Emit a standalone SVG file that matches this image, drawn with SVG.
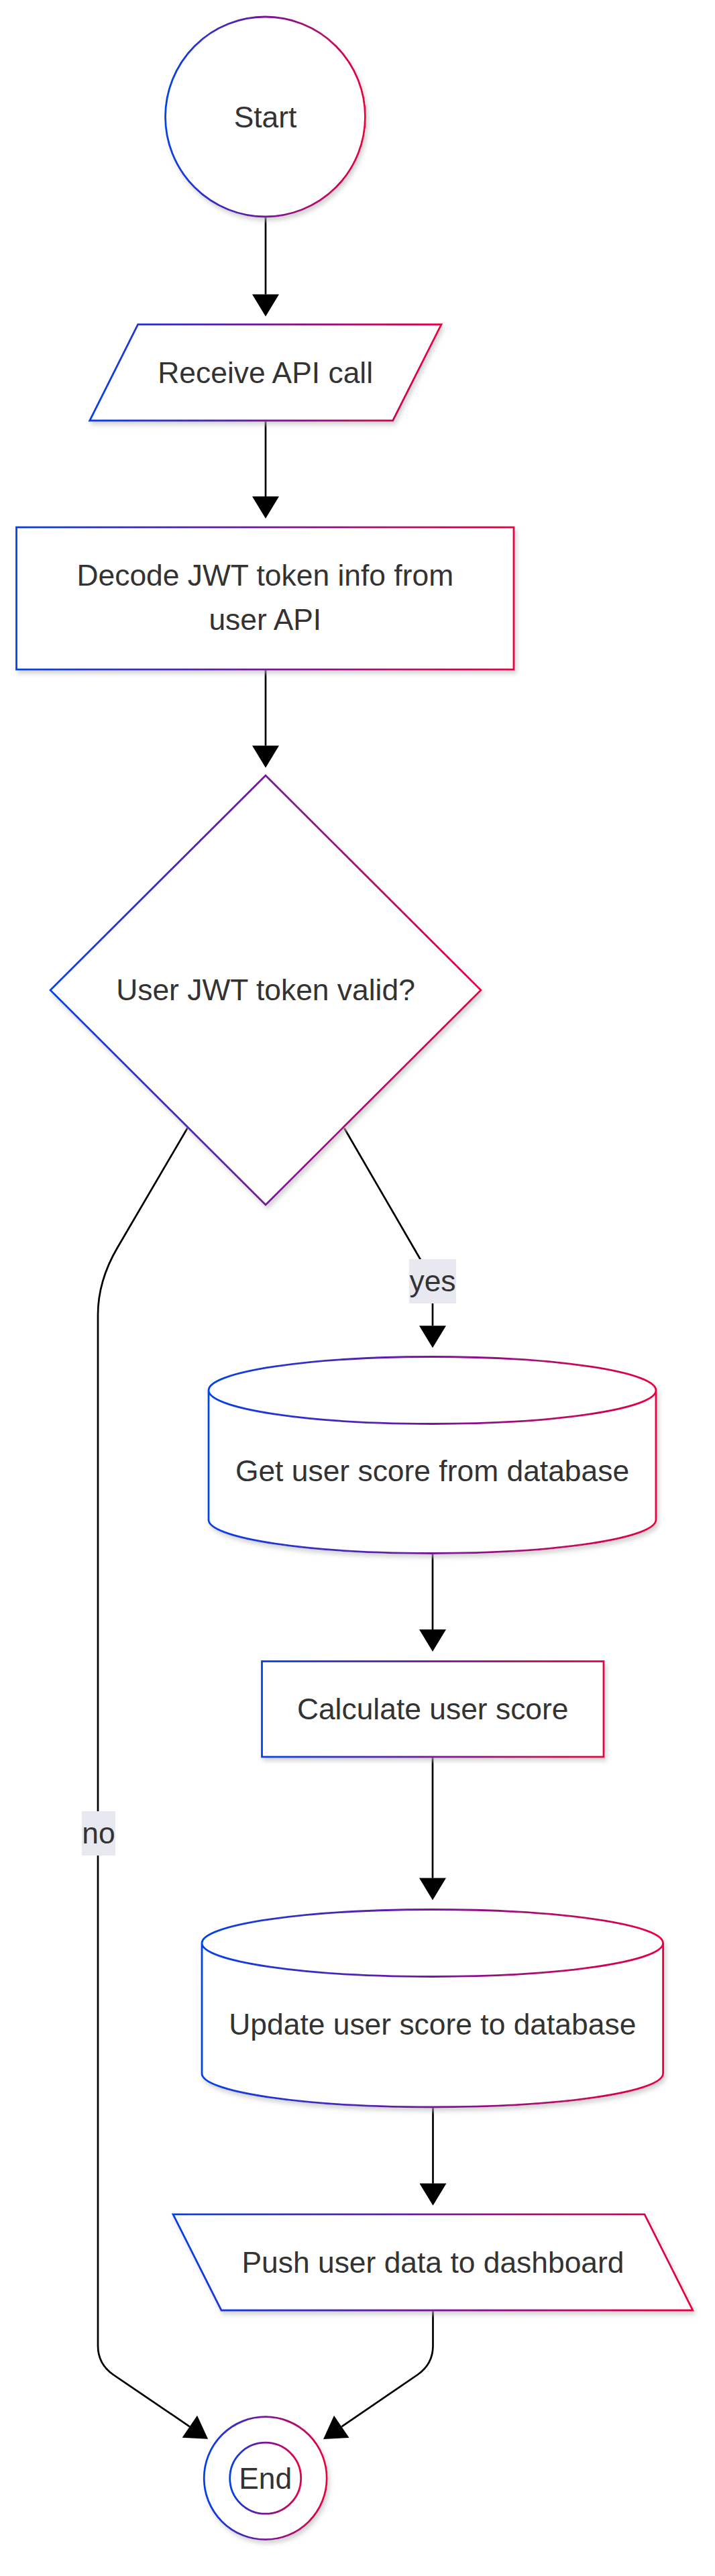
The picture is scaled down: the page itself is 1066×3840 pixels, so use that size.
<svg xmlns="http://www.w3.org/2000/svg" width="1066" height="3840" viewBox="0 0 1066 3840">
<style>
.node .shape{fill:#ffffff;stroke:url(#grad);stroke-width:2.8;filter:url(#shadow);}
.node .plain{fill:none;stroke:url(#grad);stroke-width:2.8;}
.node text,.label text{font-family:"Liberation Sans",Arial,sans-serif;font-size:44.4px;fill:#333333;text-anchor:middle;}
.edge{fill:none;stroke:#000000;stroke-width:2.7;marker-end:url(#arrow);}
.label rect{fill:#e8e8f0;}
</style>
<defs>
<linearGradient id="grad" x1="0" y1="0" x2="1" y2="0">
<stop offset="0" stop-color="#0042eb"/>
<stop offset="0.5" stop-color="#77159a"/>
<stop offset="1" stop-color="#eb0042"/>
</linearGradient>
<filter id="shadow" x="-20%" y="-20%" width="140%" height="140%">
<feDropShadow dx="3" dy="5" stdDeviation="3" flood-color="#b9b9b9" flood-opacity="0.6"/>
</filter>
<marker id="arrow" markerUnits="userSpaceOnUse" markerWidth="34" markerHeight="40" viewBox="0 0 33 40" refX="0" refY="20" orient="auto">
<path d="M0,0 L33,20 L0,40 z" fill="#000000"/>
</marker>
</defs>
<rect width="1066" height="3840" fill="#ffffff"/>
<g id="connectors">
<path class="edge" d="M396,323 L396,438.7"/>
<path class="edge" d="M396,627 L396,740"/>
<path class="edge" d="M396,998 L396,1111.6"/>
<path class="edge" d="M279.5,1681.5 L175,1860 Q146,1909.5 146,1960 L146,3497 Q146,3524 169,3540 L282.8,3617.3"/>
<path class="edge" d="M513.3,1681.7 L626,1876 Q645,1908.7 645,1940 L645,1976.3"/>
<path class="edge" d="M645,2316 L645,2429"/>
<path class="edge" d="M645,2619 L645,2799.6"/>
<path class="edge" d="M645.5,3141 L645.5,3254.8"/>
<path class="edge" d="M645.5,3444 L645.5,3497 Q645.5,3524 622.5,3540 L509.3,3617.4"/>
</g>
<g id="edge-labels">
<g class="label" id="label-yes"><rect x="610" y="1877" width="70" height="66"/><text x="645" y="1925">yes</text></g>
<g class="label" id="label-no"><rect x="122" y="2700" width="50" height="66"/><text x="147" y="2748">no</text></g>
</g>
<g id="node-start" class="node">
<circle class="shape" cx="395.5" cy="174" r="149"/>
<text x="395.5" y="189.5">Start</text>
</g>
<g id="node-receive" class="node">
<polygon class="shape" points="205.6,483.7 658,483.7 585.7,627 133.7,627"/>
<text x="395.7" y="570.5">Receive API call</text>
</g>
<g id="node-decode" class="node">
<rect class="shape" x="24.5" y="786" width="741.5" height="212"/>
<text x="395.3" y="872.5">Decode JWT token info from</text>
<text x="395.3" y="938.5">user API</text>
</g>
<g id="node-decision" class="node">
<polygon class="shape" points="396,1156 717,1476 396,1796 75,1476"/>
<text x="396" y="1491">User JWT token valid?</text>
</g>
<g id="node-get" class="node">
<path class="shape" d="M311,2072.5 a333.5,50 0 0 0 667,0 a333.5,50 0 0 0 -667,0 l0,193 a333.5,50 0 0 0 667,0 l0,-193"/>
<text x="644.5" y="2208">Get user score from database</text>
</g>
<g id="node-calc" class="node">
<rect class="shape" x="390.5" y="2476.5" width="509.5" height="142.5"/>
<text x="645.2" y="2563">Calculate user score</text>
</g>
<g id="node-update" class="node">
<path class="shape" d="M301,2896.5 a343.8,50 0 0 0 687.6,0 a343.8,50 0 0 0 -687.6,0 l0,194.5 a343.8,50 0 0 0 687.6,0 l0,-194.5"/>
<text x="644.8" y="3032.5">Update user score to database</text>
</g>
<g id="node-push" class="node">
<polygon class="shape" points="258,3300.8 961,3300.8 1033,3444 330,3444"/>
<text x="645.5" y="3388">Push user data to dashboard</text>
</g>
<g id="node-end" class="node">
<circle class="shape" cx="395.7" cy="3694.2" r="91.5"/>
<circle class="plain" cx="395.7" cy="3694.2" r="53"/>
<text x="395.7" y="3709.5">End</text>
</g>
</svg>
